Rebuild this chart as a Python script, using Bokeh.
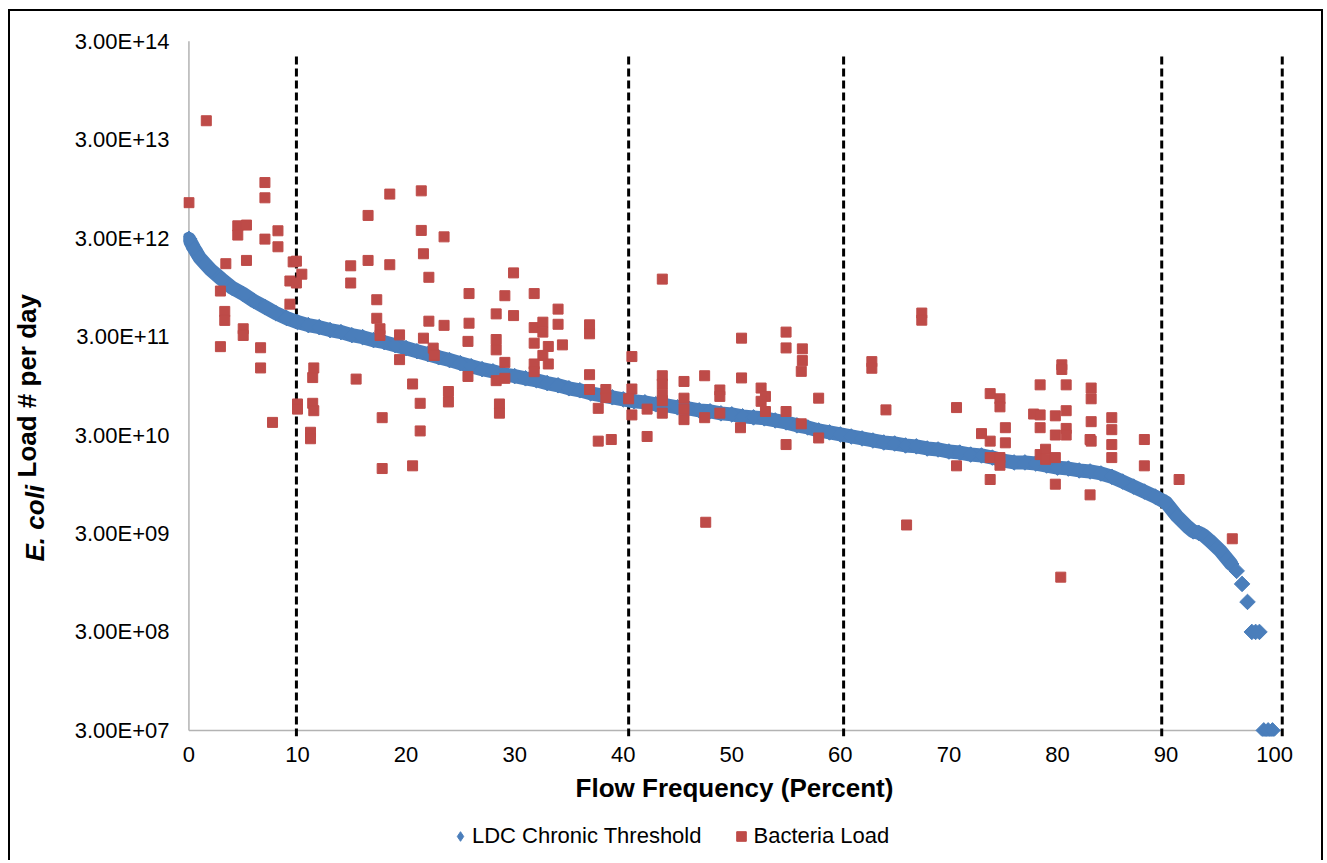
import math
from bokeh.plotting import figure
from bokeh.layouts import column
from bokeh.models import (FixedTicker, Range1d, Label, Legend, LegendItem)
from bokeh.embed import file_html
from bokeh.resources import INLINE

# ---------------- data ----------------
ldc_pct = [0, 0.5, 1, 1.5, 2, 3, 4, 5, 6, 7, 8, 9, 10, 11, 12, 13, 14, 15, 16, 17, 18, 19,
           20, 21, 22, 23, 24, 25, 26, 27, 28, 29, 30, 31, 32, 33, 34, 35, 36, 37, 38, 39,
           40, 41, 42, 43, 44, 45, 46, 47, 48, 49, 50, 51, 52, 53, 54, 55, 56, 57, 58, 59,
           60, 61, 62, 63, 64, 65, 66, 67, 68, 69, 70, 71, 72, 73, 74, 75, 76, 77, 78, 79,
           80, 81, 82, 83, 84, 85, 86, 87, 88, 89, 90, 91, 92, 92.5, 93, 93.5, 94, 95, 96,
           96.5, 97, 97.5, 97.9, 98.25, 98.6, 99.0, 99.4, 99.8]
ldc_load = [2.95e12, 2.33e12, 1.89e12, 1.64e12, 1.43e12, 1.15e12, 9.35e11, 8.12e11, 6.89e11,
            5.99e11, 5.20e11, 4.62e11, 4.21e11, 3.92e11, 3.74e11, 3.49e11, 3.33e11, 3.10e11,
            2.96e11, 2.76e11, 2.63e11, 2.45e11, 2.29e11, 2.13e11, 1.99e11, 1.85e11, 1.73e11,
            1.61e11, 1.50e11, 1.40e11, 1.33e11, 1.24e11, 1.19e11, 1.13e11, 1.08e11, 1.01e11,
            9.60e10, 8.95e10, 8.54e10, 7.96e10, 7.59e10, 7.25e10, 6.91e10, 6.60e10, 6.44e10,
            6.15e10, 6.00e10, 5.73e10, 5.60e10, 5.34e10, 5.22e10, 4.98e10, 4.86e10, 4.64e10,
            4.53e10, 4.43e10, 4.22e10, 4.03e10, 3.76e10, 3.58e10, 3.34e10, 3.19e10, 3.04e10,
            2.90e10, 2.77e10, 2.64e10, 2.52e10, 2.46e10, 2.35e10, 2.30e10, 2.19e10, 2.14e10,
            2.04e10, 1.99e10, 1.90e10, 1.86e10, 1.77e10, 1.65e10, 1.58e10, 1.58e10, 1.54e10,
            1.47e10, 1.40e10, 1.37e10, 1.31e10, 1.28e10, 1.22e10, 1.13e10, 1.01e10, 8.98e9,
            7.99e9, 7.11e9, 6.18e9, 4.50e9, 3.50e9, 3.15e9, 3.05e9, 2.85e9, 2.55e9, 2.00e9,
            1.47e9, 1.25e9, 9.22e8, 6.05e8, 3.0e8, 3.0e8, 3.0e8, 3.0e7, 3.0e7, 3.0e7]

bact_pct = [1.6, 0.0, 7.0, 7.0, 4.5, 5.3, 4.5, 8.2, 8.2, 7.0, 3.4, 5.3, 9.6, 9.9, 10.4, 9.3,
            9.9, 2.9, 9.3, 3.3, 3.3, 5.0, 5.0, 2.9, 6.6, 6.6, 7.7, 10.0, 10.0, 11.5, 11.4, 11.4,
            11.5, 11.2, 11.2, 14.9, 14.9, 15.4, 16.5, 16.5, 17.3, 17.3, 17.6, 17.6, 17.8, 17.8,
            18.5, 18.5, 19.4, 19.4, 20.6, 20.6, 21.3, 21.3, 21.4, 21.4, 21.6, 22.1, 22.1, 21.6,
            22.5, 22.6, 23.5, 23.5, 23.9, 23.9, 25.8, 25.8, 25.7, 25.7, 29.1, 28.3, 29.9, 29.9,
            28.3, 28.3, 29.1, 28.3, 29.1, 28.6, 28.6, 31.8, 31.8, 32.6, 32.6, 31.8, 33.1, 32.6,
            31.8, 31.8, 33.1, 34.0, 34.0, 34.4, 36.9, 36.9, 36.9, 36.9, 38.4, 38.4, 37.7, 37.7,
            38.9, 40.8, 40.8, 40.5, 40.8, 42.2, 42.2, 43.6, 43.6, 43.6, 43.6, 43.6, 43.6, 45.6,
            45.6, 45.6, 45.6, 47.5, 47.5, 47.6, 48.9, 48.9, 48.9, 50.9, 50.9, 50.8, 52.7, 53.1,
            52.7, 53.1, 55.0, 55.0, 55.0, 55.0, 56.5, 56.5, 56.4, 56.4, 58.0, 58.0, 62.9, 62.9,
            64.2, 66.1, 67.5, 67.5, 70.7, 70.7, 73.8, 74.7, 74.7, 73.0, 73.8, 75.2, 75.2, 73.8,
            74.7, 74.7, 73.8, 78.4, 77.8, 78.4, 78.4, 78.4, 78.9, 78.9, 79.8, 79.8, 80.8, 80.8,
            80.8, 79.8, 80.4, 80.4, 80.8, 79.8, 80.3, 83.1, 83.1, 83.1, 83.0, 83.1, 83.0, 85.0,
            85.0, 85.0, 85.0, 88.0, 88.0, 91.2, 96.1]
bact_load = [4.67e13, 6.87e12, 1.10e13, 7.7e12, 4.0e12, 4.07e12, 3.22e12, 3.56e12, 2.45e12,
             2.93e12, 1.65e12, 1.78e12, 1.72e12, 1.75e12, 1.29e12, 1.10e12, 1.05e12, 8.7e11,
             6.4e11, 5.4e11, 4.38e11, 3.6e11, 3.08e11, 2.37e11, 2.31e11, 1.44e11, 4.03e10,
             6.2e10, 5.5e10, 1.44e11, 1.15e11, 6.3e10, 5.3e10, 3.2e10, 2.75e10, 1.57e12, 1.05e12,
             1.11e11, 5.1e12, 1.78e12, 7.1e11, 4.6e11, 3.6e11, 3.08e11, 4.5e10, 1.37e10, 8.4e12,
             1.61e12, 3.12e11, 1.75e11, 9.9e10, 1.46e10, 6.3e10, 3.3e10, 9.06e12, 3.59e12,
             2.08e12, 1.20e12, 4.3e11, 2.89e11, 2.29e11, 1.93e11, 3.09e12, 3.9e11, 8.3e10,
             6.5e10, 8.2e11, 4.1e11, 2.68e11, 1.18e11, 7.8e11, 5.1e11, 1.33e12, 4.9e11, 2.8e11,
             2.2e11, 1.64e11, 1.07e11, 1.13e11, 6.2e10, 5.0e10, 8.2e11, 3.7e11, 4.2e11, 3.33e11,
             2.57e11, 2.38e11, 1.93e11, 1.58e11, 1.32e11, 1.58e11, 5.7e11, 4.0e11, 2.47e11,
             3.95e11, 3.2e11, 1.23e11, 8.7e10, 8.7e10, 7.2e10, 5.6e10, 2.6e10, 2.7e10, 1.88e11,
             8.8e10, 7.0e10, 4.8e10, 5.5e10, 2.9e10, 1.15e12, 1.2e11, 9.9e10, 7.8e10, 6.7e10,
             5.0e10, 1.05e11, 7.1e10, 5.5e10, 4.3e10, 1.2e11, 4.5e10, 3.9e9, 8.6e10, 7.4e10,
             5.0e10, 2.89e11, 1.14e11, 3.56e10, 9.0e10, 7.4e10, 6.6e10, 5.2e10, 3.33e11, 2.3e11,
             5.2e10, 2.4e10, 2.25e11, 1.71e11, 1.33e11, 3.9e10, 7.1e10, 2.8e10, 1.67e11, 1.43e11,
             5.4e10, 3.66e9, 5.2e11, 4.4e11, 5.7e10, 1.46e10, 7.9e10, 7.0e10, 5.8e10, 3.1e10,
             2.6e10, 3.56e10, 2.5e10, 1.77e10, 1.77e10, 1.48e10, 1.06e10, 9.7e10, 4.9e10, 4.8e10,
             3.56e10, 1.9e10, 2.15e10, 1.7e10, 1.77e10, 4.7e10, 5.3e10, 3.5e10, 3.0e10, 3.0e10,
             1.55e11, 1.39e11, 9.7e10, 9.5e9, 1.08e9, 9.0e10, 7.0e10, 4.1e10, 2.7e10, 2.6e10,
             7.4e9, 4.5e10, 3.4e10, 2.4e10, 1.77e10, 2.7e10, 1.46e10, 1.06e10, 2.65e9]

x_ticks = [0, 10, 20, 30, 40, 50, 60, 70, 80, 90, 100]
y_ticks = [3e7, 3e8, 3e9, 3e10, 3e11, 3e12, 3e13, 3e14]
y_tick_labels = ["3.00E+07", "3.00E+08", "3.00E+09", "3.00E+10",
                 "3.00E+11", "3.00E+12", "3.00E+13", "3.00E+14"]
zone_bounds = [9.9, 40.5, 60.3, 89.6, 100.7]

# ---------------- styling ----------------
FONT = "Liberation Sans"
BLUE = "#4A7EBB"
RED = "#BE4B48"
AXIS_GRAY = "#B3B3B3"
FRAME = "2px solid black"
FRAME_W = 1098
BORDER_L, BORDER_R = 173, 40

X_START, X_END = -0.5, 101.0
Y_START, Y_END = 2.6e7, 3.05e14
LINE_TOP = 2.11e14

fig = figure(frame_width=FRAME_W, frame_height=694, output_backend="svg",
             toolbar_location=None, y_axis_type="log",
             x_range=Range1d(X_START, X_END), y_range=Range1d(Y_START, Y_END),
             min_border_left=BORDER_L, min_border_right=BORDER_R, min_border_top=29,
             min_border_bottom=76,
             styles={"border-top": FRAME, "border-left": FRAME, "border-right": FRAME})
fig.outline_line_color = None
fig.xgrid.visible = False
fig.ygrid.visible = False
fig.background_fill_color = "white"
fig.border_fill_color = "white"

for ax in (fig.xaxis[0], fig.yaxis[0]):
    ax.axis_line_color = None
    ax.major_tick_line_color = None
    ax.minor_tick_line_color = None
    ax.major_tick_out = 0
    ax.major_label_text_font = FONT
    ax.major_label_text_font_size = "22px"
    ax.major_label_text_color = "black"

fig.xaxis.ticker = FixedTicker(ticks=x_ticks)
fig.xaxis.major_label_standoff = 10
fig.xaxis.axis_label = "Flow Frequency (Percent)"
fig.xaxis.axis_label_text_font = FONT
fig.xaxis.axis_label_text_font_size = "26px"
fig.xaxis.axis_label_text_font_style = "bold"
fig.xaxis.axis_label_text_color = "black"
fig.xaxis.axis_label_standoff = 8

fig.yaxis.ticker = FixedTicker(ticks=y_ticks)
fig.yaxis.major_label_overrides = {t: s for t, s in zip(y_ticks, y_tick_labels)}
fig.yaxis.major_label_standoff = 14

# Excel-style axis lines at the origin
fig.line(x=[0, 0], y=[y_ticks[0], y_ticks[-1]], line_color=AXIS_GRAY, line_width=1.5)
fig.line(x=[0, zone_bounds[-1]], y=[y_ticks[0], y_ticks[0]], line_color=AXIS_GRAY,
         line_width=1.5)

# dashed flow-zone boundaries
for xb in zone_bounds:
    fig.line(x=[xb, xb], y=[Y_START, LINE_TOP], line_color="black", line_width=3,
             line_dash="8 4")

# LDC curve: band + diamonds
cont = [i for i, x in enumerate(ldc_pct) if x <= 96]
fig.line(x=[ldc_pct[i] for i in cont], y=[ldc_load[i] for i in cont],
         line_color=BLUE, line_width=14, line_join="round", line_cap="round")
fig.scatter(x=ldc_pct, y=ldc_load, marker="square", angle=math.pi / 4,
            size=11, fill_color=BLUE, line_color=BLUE)

# bacteria loads
fig.scatter(x=bact_pct, y=bact_load, marker="square", size=10,
            fill_color=RED, line_color=RED)

# y-axis title with italic species name (left side panel)
fig.add_layout(Label(x=-7, y=175, x_units="screen", y_units="screen",
                     text="E. coli", angle=math.pi / 2, text_font=FONT,
                     text_font_size="26px", text_font_style="bold italic",
                     text_align="left", text_baseline="alphabetic", text_color="black"),
               "left")
fig.add_layout(Label(x=15, y=259, x_units="screen", y_units="screen",
                     text="Load  # per day", angle=math.pi / 2, text_font=FONT,
                     text_font_size="26px", text_font_style="bold",
                     text_align="left", text_baseline="alphabetic", text_color="black"),
               "left")

# ---------------- legend strip below the chart ----------------
leg = figure(frame_width=FRAME_W, frame_height=50, output_backend="svg",
             toolbar_location=None,
             x_range=Range1d(0, 1), y_range=Range1d(0, 1),
             x_axis_location=None, y_axis_location=None,
             min_border_left=BORDER_L, min_border_right=BORDER_R,
             min_border_top=0, min_border_bottom=0,
             styles={"border-left": FRAME, "border-right": FRAME})
leg.outline_line_color = None
leg.xgrid.visible = False
leg.ygrid.visible = False
# same series, drawn outside this strip's view so that only their legend entries show
r_ldc = leg.scatter(x=ldc_pct, y=ldc_load, marker="diamond",
                    size=11, fill_color=BLUE, line_color=BLUE)
r_bac = leg.scatter(x=bact_pct, y=bact_load, marker="square", size=10,
                    fill_color=RED, line_color=RED)
legend = Legend(items=[LegendItem(label="LDC Chronic Threshold", renderers=[r_ldc]),
                       LegendItem(label="Bacteria Load", renderers=[r_bac])],
                orientation="horizontal", location=(265, 11),
                label_text_font=FONT, label_text_font_size="22px",
                label_text_color="black",
                glyph_width=24, glyph_height=24, label_standoff=0, spacing=28,
                padding=0, margin=0, border_line_color=None, background_fill_alpha=0)
leg.add_layout(legend, "center")

p = column(fig, leg, spacing=0, margin=(9, 0, 0, 8))

open("out.html", "w").write(file_html(p, INLINE))
